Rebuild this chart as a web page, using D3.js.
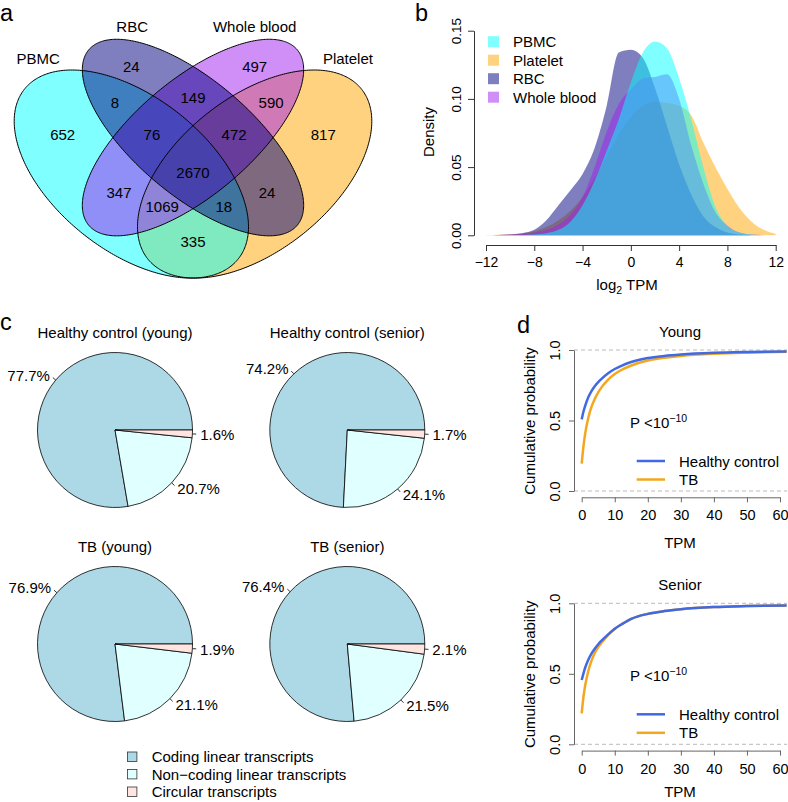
<!DOCTYPE html>
<html><head><meta charset="utf-8">
<script src="https://cdn.jsdelivr.net/npm/d3@7"></script>
<style>
body{margin:0;background:#fff}
text{font-family:"Liberation Sans",Arial,Helvetica,sans-serif;fill:#000}
</style>
</head><body>
<svg id="fig" width="788" height="802"></svg>
<script>
// ================= DATA =================
// Panel a: Venn diagram
const vennSetNames = ["PBMC", "RBC", "Whole blood", "Platelet"];
const vennSetColors = ["#00FFFF", "#000080", "#A020F0", "#FFA500"];
const vennRegionKeys = ["RBC", "WB", "PBMC+RBC", "RBC+WB", "WB+Plt", "PBMC", "PBMC+RBC+WB",
  "RBC+WB+Plt", "Plt", "ALL", "PBMC+WB", "RBC+Plt", "PBMC+WB+Plt", "PBMC+RBC+Plt", "PBMC+Plt"];
const vennCounts = [24, 497, 8, 149, 590, 652, 76, 472, 817, 2670, 347, 24, 1069, 18, 335];

// Panel b: density of log2 TPM
const densX = [-12,-11,-10,-9,-8,-7,-6,-5,-4,-3,-2,-1,0,1,2,3,4,5,6,7,8,9,10,11,12];
const densPBMC     = [0,0,0,0.0002,0.0006,0.0015,0.004,0.010,0.022,0.040,0.062,0.085,0.112,0.134,0.142,0.137,0.115,0.085,0.050,0.021,0.007,0.002,0.0005,0,0];
const densPlatelet = [0.0002,0.0004,0.0008,0.0015,0.003,0.006,0.011,0.018,0.028,0.042,0.058,0.074,0.087,0.095,0.098,0.097,0.095,0.088,0.068,0.050,0.034,0.020,0.010,0.004,0.001];
const densRBC      = [0,0.0002,0.0006,0.0015,0.004,0.011,0.022,0.033,0.045,0.064,0.095,0.134,0.136,0.130,0.108,0.080,0.052,0.030,0.014,0.006,0.002,0.0005,0.0001,0,0];
const densWB       = [0,0.0002,0.0005,0.001,0.002,0.004,0.008,0.015,0.028,0.050,0.076,0.096,0.107,0.115,0.116,0.118,0.100,0.066,0.038,0.017,0.007,0.002,0.0005,0.0001,0];
const densSeries = ["PBMC", "Platelet", "RBC", "Whole blood"];
const densColors = ["#00FFFF", "#FFA500", "#000080", "#A020F0"];
const densTicksX = [-12,-8,-4,0,4,8,12];
const densTicksY = [0, 0.05, 0.10, 0.15];

// Panel c: pies
const pieTitles = ["Healthy control (young)", "Healthy control (senior)", "TB (young)", "TB (senior)"];
const pieCategories = ["Coding linear transcripts", "Non\u2212coding linear transcripts", "Circular transcripts"];
const pieColors = ["#ADD8E6", "#E0FFFF", "#FFE4E1"];
const pieHCYoung  = [77.7, 20.7, 1.6];
const pieHCSenior = [74.2, 24.1, 1.7];
const pieTBYoung  = [76.9, 21.1, 1.9];
const pieTBSenior = [76.4, 21.5, 2.1];

// Panel d: cumulative distributions
const tpmX = [0,0.5,1,2,3,4,5,6,8,10,12,15,20,25,30,40,50,62];
const youngHC  = [0.508,0.56,0.60,0.665,0.71,0.745,0.772,0.795,0.835,0.865,0.888,0.915,0.943,0.958,0.968,0.98,0.986,0.99];
const youngTB  = [0.195,0.31,0.40,0.52,0.60,0.655,0.70,0.735,0.79,0.83,0.858,0.89,0.925,0.945,0.958,0.973,0.981,0.987];
const seniorHC = [0.456,0.50,0.54,0.60,0.645,0.68,0.71,0.735,0.78,0.82,0.85,0.89,0.925,0.945,0.958,0.973,0.98,0.985];
const seniorTB = [0.22,0.33,0.41,0.52,0.595,0.65,0.69,0.72,0.775,0.818,0.85,0.89,0.925,0.945,0.958,0.973,0.98,0.985];
const cdfTicksX = [0,10,20,30,40,50,60];
const cdfTicksY = [0, 0.5, 1];
const cdfGroups = ["Healthy control", "TB"];
const cdfColors = ["#4169E1", "#F3A71F"];

// ================= DRAW =================
const svg = d3.select("#fig");
const FONT = 15;

// ---------- panel labels ----------
[["a",0,21],["b",415,21],["c",0,330],["d",517,333]].forEach(([t,x,y]) =>
  svg.append("text").attr("x",x).attr("y",y).attr("font-size",23.5).text(t));

// ---------- Panel a: Venn ----------
(function(){
  const vx = d3.scaleLinear().domain([0,1]).range([-12.5, 398.5]);
  const vy = d3.scaleLinear().domain([0,1]).range([345.6, -19.4]);
  const ell = {
    "PBMC":        {cx:0.35, cy:0.47, a:0.35, b:0.20, rot:135},
    "RBC":         {cx:0.50, cy:0.57, a:0.35, b:0.15, rot:135},
    "Whole blood": {cx:0.50, cy:0.57, a:0.35, b:0.15, rot:45},
    "Platelet":    {cx:0.65, cy:0.47, a:0.35, b:0.20, rot:45}
  };
  const drawOrder = ["Platelet", "PBMC", "Whole blood", "RBC"];
  const line = d3.line().curve(d3.curveLinearClosed);
  function pts(e){
    const r = e.rot*Math.PI/180;
    return d3.range(0,360,1).map(t => {
      const tt = t*Math.PI/180;
      return [vx(e.cx + e.a*Math.cos(tt)*Math.cos(r) - e.b*Math.sin(tt)*Math.sin(r)),
              vy(e.cy + e.a*Math.cos(tt)*Math.sin(r) + e.b*Math.sin(tt)*Math.cos(r))];
    });
  }
  const g = svg.append("g");
  drawOrder.forEach(n => {
    g.append("path").attr("d", line(pts(ell[n])))
      .attr("fill", vennSetColors[vennSetNames.indexOf(n)]).attr("fill-opacity",0.5).attr("stroke","none");
  });
  drawOrder.forEach(n => {
    g.append("path").attr("d", line(pts(ell[n])))
      .attr("fill","none").attr("stroke","#000").attr("stroke-width",1);
  });
  const regionPos = {
    "RBC":[0.35,0.765], "WB":[0.65,0.765], "PBMC+RBC":[0.31,0.667], "RBC+WB":[0.5,0.68],
    "WB+Plt":[0.69,0.667], "PBMC":[0.183,0.577], "PBMC+RBC+WB":[0.40,0.577], "RBC+WB+Plt":[0.60,0.577],
    "Plt":[0.817,0.577], "ALL":[0.5,0.473], "PBMC+WB":[0.32,0.42], "RBC+Plt":[0.68,0.42],
    "PBMC+WB+Plt":[0.425,0.38], "PBMC+RBC+Plt":[0.575,0.38], "PBMC+Plt":[0.5,0.284]
  };
  vennRegionKeys.forEach((k,i) => {
    const p = regionPos[k];
    g.append("text").attr("x",vx(p[0])).attr("y",vy(p[1])).attr("text-anchor","middle")
      .attr("dominant-baseline","central").attr("font-size",FONT).text(vennCounts[i]);
  });
  const catPos = {"PBMC":[0.123,0.787], "RBC":[0.352,0.873], "Whole blood":[0.65,0.873], "Platelet":[0.877,0.787]};
  vennSetNames.forEach(n => {
    const p = catPos[n];
    g.append("text").attr("x",vx(p[0])).attr("y",vy(p[1])).attr("text-anchor","middle")
      .attr("dominant-baseline","central").attr("font-size",FONT).text(n);
  });
})();

// ---------- Panel b: density ----------
(function(){
  const x = d3.scaleLinear().domain([-12,12]).range([486, 775.7]);
  const y = d3.scaleLinear().domain([0,0.15]).range([235.3, 30.7]);
  const g = svg.append("g");
  const seriesData = {"PBMC":densPBMC, "Platelet":densPlatelet, "RBC":densRBC, "Whole blood":densWB};
  const area = d3.area().x((d,i)=>x(densX[i])).y0(y(0)).y1(d=>y(d)).curve(d3.curveMonotoneX);
  const drawOrder = ["Platelet","RBC","Whole blood","PBMC"];
  drawOrder.forEach(n => {
    g.append("path").attr("d", area(seriesData[n]))
      .attr("fill", densColors[densSeries.indexOf(n)]).attr("fill-opacity",0.5);
  });
  const xa = g.append("g").attr("transform","translate(0,245)")
    .call(d3.axisBottom(x).tickValues(densTicksX).tickSize(6).tickSizeOuter(0).tickFormat(d3.format("d")));
  xa.selectAll("path,line").attr("stroke","#333");
  xa.selectAll("text").attr("font-size",14).attr("font-family",null).attr("y",17).attr("dy","0").attr("dominant-baseline","central");
  const ya = g.append("g").attr("transform","translate(474,0)")
    .call(d3.axisLeft(y).tickValues(densTicksY).tickSize(6).tickSizeOuter(0).tickFormat(d3.format(".2f")));
  ya.selectAll("path,line").attr("stroke","#333");
  ya.selectAll("text").attr("font-size",13.5).attr("font-family",null)
    .attr("transform","rotate(-90)").attr("x",0).attr("y",-13).attr("dy","0").attr("text-anchor","middle");
  svg.append("text").attr("transform","translate(434,132) rotate(-90)").attr("text-anchor","middle")
    .attr("font-size",FONT).text("Density");
  const xl = svg.append("text").attr("x",627).attr("y",290).attr("text-anchor","middle").attr("font-size",FONT);
  xl.append("tspan").text("log");
  xl.append("tspan").attr("font-size",10.5).attr("dy",4).text("2");
  xl.append("tspan").attr("dy",-4).text(" TPM");
  densSeries.forEach((n,i) => {
    const cy = 41.7 + i*18.5;
    g.append("rect").attr("x",488).attr("y",cy-5.5).attr("width",11).attr("height",11)
      .attr("fill",densColors[i]).attr("fill-opacity",0.5);
    g.append("text").attr("x",513).attr("y",cy).attr("dominant-baseline","central").attr("font-size",FONT).text(n);
  });
})();

// ---------- Panel c: pies ----------
(function(){
  const centers = [[115,430],[347.3,430],[115,644],[347.3,644]];
  const values = [pieHCYoung, pieHCSenior, pieTBYoung, pieTBSenior];
  const R = 77.5;
  const pie = d3.pie().sort(null).startAngle(Math.PI/2).endAngle(Math.PI/2 - 2*Math.PI);
  const arc = d3.arc().innerRadius(0).outerRadius(R);
  values.forEach((vals,k) => {
    const [cx,cy] = centers[k];
    const g = svg.append("g").attr("transform",`translate(${cx},${cy})`);
    const arcs = pie(vals);
    arcs.forEach((a,i) => {
      g.append("path").attr("d",arc(a)).attr("fill",pieColors[i]).attr("stroke","#000").attr("stroke-width",0.8);
    });
    arcs.forEach((a,i) => {
      const m = (a.startAngle + a.endAngle)/2;
      const sx = Math.sin(m), sy = -Math.cos(m);
      g.append("line").attr("x1",R*sx).attr("y1",R*sy).attr("x2",1.05*R*sx).attr("y2",1.05*R*sy)
        .attr("stroke","#000").attr("stroke-width",0.8);
      g.append("text").attr("x",1.1*R*sx).attr("y",1.1*R*sy)
        .attr("text-anchor", sx < 0 ? "end" : "start").attr("dominant-baseline","central")
        .attr("font-size",FONT).text(d3.format(".1f")(vals[i]) + "%");
    });
    svg.append("text").attr("x",cx).attr("y",cy - 92).attr("text-anchor","middle")
      .attr("font-size",FONT).text(pieTitles[k]);
  });
  pieCategories.forEach((c,i) => {
    const cy = 756.7 + i*17.5;
    svg.append("rect").attr("x",127.5).attr("y",cy-4.7).attr("width",9.4).attr("height",9.4)
      .attr("fill",pieColors[i]).attr("stroke","#333").attr("stroke-width",0.8);
    svg.append("text").attr("x",151.7).attr("y",cy).attr("dominant-baseline","central")
      .attr("font-size",FONT).text(c);
  });
})();

// ---------- Panel d: cumulative probability ----------
function cdfPanel(top, title, hc, tb, tpmY){
  const x = d3.scaleLinear().domain([0,60]).range([581.7, 780]);
  const y = d3.scaleLinear().domain([0,1]).range([top+141, top]);
  const g = svg.append("g");
  [0,1].forEach(v => g.append("line").attr("x1",574).attr("x2",787).attr("y1",y(v)).attr("y2",y(v))
    .attr("stroke","#BBBBBB").attr("stroke-width",1).attr("stroke-dasharray","4,3"));
  const line = d3.line().x((d,i)=>x(tpmX[i])).y(d=>y(d)).curve(d3.curveMonotoneX);
  g.append("path").attr("d",line(tb)).attr("fill","none").attr("stroke",cdfColors[1]).attr("stroke-width",2.5);
  g.append("path").attr("d",line(hc)).attr("fill","none").attr("stroke",cdfColors[0]).attr("stroke-width",2.5);
  const xa = g.append("g").attr("transform",`translate(0,${top+147.3})`)
    .call(d3.axisBottom(x).tickValues(cdfTicksX).tickSize(5).tickSizeOuter(0).tickFormat(d3.format("d")));
  xa.selectAll("path,line").attr("stroke","#666");
  xa.selectAll("text").attr("font-size",14.5).attr("font-family",null).attr("y",18).attr("dy","0").attr("dominant-baseline","central");
  const ya = g.append("g").attr("transform","translate(574,0)")
    .call(d3.axisLeft(y).tickValues(cdfTicksY).tickSize(5).tickSizeOuter(0).tickFormat(d3.format(".1f")));
  ya.selectAll("path,line").attr("stroke","#666");
  ya.selectAll("text").attr("font-size",14.5).attr("font-family",null)
    .attr("transform","rotate(-90)").attr("x",0).attr("y",-14).attr("dy","0").attr("text-anchor","middle");
  svg.append("text").attr("transform",`translate(535,${top+71}) rotate(-90)`).attr("text-anchor","middle")
    .attr("font-size",FONT).text("Cumulative probability");
  svg.append("text").attr("x",680).attr("y",top-13).attr("text-anchor","middle").attr("font-size",FONT).text(title);
  svg.append("text").attr("x",680).attr("y",tpmY).attr("text-anchor","middle").attr("font-size",FONT).text("TPM");
  const p = svg.append("text").attr("x",630).attr("y",top+78).attr("font-size",FONT);
  p.append("tspan").text("P <10");
  p.append("tspan").attr("font-size",10.5).attr("dy",-6).text("\u221210");
  cdfGroups.forEach((n,i) => {
    const ly = top + (i===0 ? 111 : 129.5);
    g.append("line").attr("x1",636.7).attr("x2",665).attr("y1",ly).attr("y2",ly)
      .attr("stroke",cdfColors[i]).attr("stroke-width",2.5);
    g.append("text").attr("x",679).attr("y",ly).attr("dominant-baseline","central").attr("font-size",FONT).text(n);
  });
}
cdfPanel(350, "Young", youngHC, youngTB, 548);
cdfPanel(603.3, "Senior", seniorHC, seniorTB, 797);
</script>
</body></html>
